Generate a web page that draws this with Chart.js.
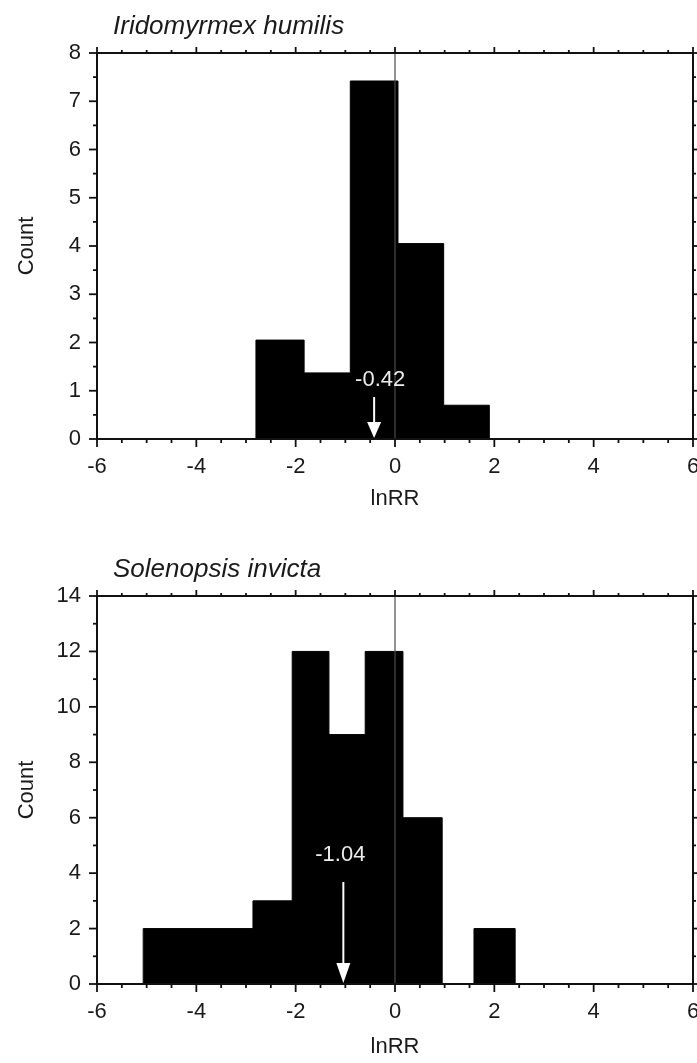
<!DOCTYPE html>
<html>
<head>
<meta charset="utf-8">
<script src="https://cdn.jsdelivr.net/npm/chart.js@4.4.1/dist/chart.umd.min.js"></script>
<style>
    html, body { margin: 0; padding: 0; background: #fff; overflow: hidden; }
    canvas { display: block; }
</style>
</head>
<body>
<canvas id="humilis" width="697" height="530"></canvas>
<canvas id="invicta" width="697" height="533"></canvas>
<script>
// Iridomyrmex humilis: bin edges (lnRR) and counts
const humilisEdges = [-2.8, -1.83, -0.9, 0.06, 0.98, 1.9];
const humilisCounts = [2.05, 1.37, 7.42, 4.05, 0.7];
const humilisMean = -0.42;

// Solenopsis invicta
const invictaEdges = [-5.07, -2.86, -2.07, -1.33, -0.6, 0.16, 0.95, 1.59, 2.42];
const invictaCounts = [2, 3, 12, 9, 12, 6, 0, 2];
const invictaMean = -1.04;

const xTicks = [-6, -4, -2, 0, 2, 4, 6];
const humilisYTicks = [0, 1, 2, 3, 4, 5, 6, 7, 8];
const invictaYTicks = [0, 2, 4, 6, 8, 10, 12, 14];

const FONT = '"Liberation Sans", Arial, sans-serif';

// outline of the histogram: each count holds from its left edge to its right edge
function stepPoints(edges, counts) {
    const pts = [{ x: edges[0], y: 0 }];
    counts.forEach((c, i) => pts.push({ x: edges[i + 1], y: c }));
    pts.push({ x: edges[edges.length - 1], y: 0 });
    return pts;
}

function line(ctx, x1, y1, x2, y2) {
    ctx.beginPath();
    ctx.moveTo(x1, y1);
    ctx.lineTo(x2, y2);
    ctx.stroke();
}

// frame, minor ticks, zero line, mean arrow and panel title
const decorations = {
    id: 'decorations',
    afterDatasetsDraw(chart, args, opts) {
        const { ctx, chartArea: a, scales: { x, y } } = chart;
        ctx.save();

        const x0 = x.getPixelForValue(0);
        ctx.strokeStyle = '#4a4a4a';
        ctx.lineWidth = 1.2;
        line(ctx, x0, a.top, x0, a.bottom);

        ctx.strokeStyle = '#111';
        ctx.lineWidth = 2;
        ctx.strokeRect(a.left, a.top, a.right - a.left, a.bottom - a.top);

        ctx.lineWidth = 1.8;
        for (let v = x.min; v <= x.max + 1e-9; v += opts.xMinor) {
            const px = x.getPixelForValue(v);
            const major = Math.abs(v / opts.xMajor - Math.round(v / opts.xMajor)) < 1e-6;
            line(ctx, px, a.bottom, px, a.bottom + (major ? 8 : 4));
            line(ctx, px, a.top, px, a.top - (major ? 6 : 3));
        }
        for (let v = y.min; v <= y.max + 1e-9; v += opts.yMinor) {
            const py = y.getPixelForValue(v);
            const major = Math.abs(v / opts.yMajor - Math.round(v / opts.yMajor)) < 1e-6;
            line(ctx, a.left, py, a.left - (major ? 8 : 4), py);
            line(ctx, a.right, py, a.right + (major ? 6 : 3), py);
        }

        // mean arrow
        const ax = x.getPixelForValue(opts.mean);
        const tail = y.getPixelForValue(opts.tail);
        const tip = a.bottom - 1;
        ctx.strokeStyle = '#fff';
        ctx.fillStyle = '#fff';
        ctx.lineWidth = 2;
        line(ctx, ax, tail, ax, tip - opts.head + 2);
        ctx.beginPath();
        ctx.moveTo(ax - 7, tip - opts.head);
        ctx.lineTo(ax + 7, tip - opts.head);
        ctx.lineTo(ax, tip);
        ctx.closePath();
        ctx.fill();

        ctx.fillStyle = '#ececec';
        ctx.font = '22px ' + FONT;
        ctx.textAlign = 'center';
        ctx.textBaseline = 'middle';
        ctx.fillText(opts.mean.toFixed(2), ax + opts.labelShift, y.getPixelForValue(opts.labelAt));

        ctx.fillStyle = '#1a1a1a';
        ctx.font = 'italic 26px ' + FONT;
        ctx.textAlign = 'left';
        ctx.fillText(opts.title, a.left + 16, a.top - 26);
        ctx.restore();
    }
};

function makeChart(id, edges, counts, yTicks, deco, padTop, axisHeight, titlePad) {
    return new Chart(document.getElementById(id), {
        type: 'line',
        data: {
            datasets: [{
                data: stepPoints(edges, counts),
                stepped: 'after',
                fill: 'origin',
                backgroundColor: '#000',
                borderColor: '#000',
                borderWidth: 1,
                pointRadius: 0
            }]
        },
        options: {
            responsive: false,
            animation: false,
            devicePixelRatio: 1,
            layout: { padding: { top: padTop, left: 0, right: 0, bottom: 0 } },
            plugins: {
                legend: { display: false },
                tooltip: { enabled: false },
                decorations: deco
            },
            scales: {
                x: {
                    type: 'linear',
                    min: xTicks[0],
                    max: xTicks[xTicks.length - 1],
                    afterBuildTicks: s => { s.ticks = xTicks.map(v => ({ value: v })); },
                    grid: { display: false, drawTicks: false },
                    border: { display: false },
                    ticks: { color: '#1a1a1a', padding: 15, font: { family: FONT, size: 22 } },
                    title: {
                        display: true, text: 'lnRR', color: '#1a1a1a',
                        font: { family: FONT, size: 22 },
                        padding: { top: 0, bottom: titlePad }
                    },
                    afterFit: s => { s.height = axisHeight; s.paddingLeft = 0; s.paddingRight = 4; }
                },
                y: {
                    min: yTicks[0],
                    max: yTicks[yTicks.length - 1],
                    afterBuildTicks: s => { s.ticks = yTicks.map(v => ({ value: v })); },
                    grid: { display: false, drawTicks: false },
                    border: { display: false },
                    ticks: { color: '#1a1a1a', padding: 16, font: { family: FONT, size: 22 } },
                    title: {
                        display: true, text: 'Count', color: '#1a1a1a',
                        font: { family: FONT, size: 22 },
                        padding: { top: 14, bottom: 0 }
                    },
                    afterFit: s => { s.width = 97; s.paddingTop = 0; s.paddingBottom = 0; }
                }
            }
        },
        plugins: [decorations]
    });
}

makeChart('humilis', humilisEdges, humilisCounts, humilisYTicks, {
    title: 'Iridomyrmex humilis', mean: humilisMean,
    tail: 0.87, labelAt: 1.23, labelShift: 6, head: 16,
    xMajor: 2, xMinor: 0.5, yMajor: 1, yMinor: 0.5
}, 53, 91, 18);

makeChart('invicta', invictaEdges, invictaCounts, invictaYTicks, {
    title: 'Solenopsis invicta', mean: invictaMean,
    tail: 3.68, labelAt: 4.66, labelShift: -3, head: 20,
    xMajor: 2, xMinor: 0.5, yMajor: 2, yMinor: 1
}, 66, 79, 3);
</script>
</body>
</html>
